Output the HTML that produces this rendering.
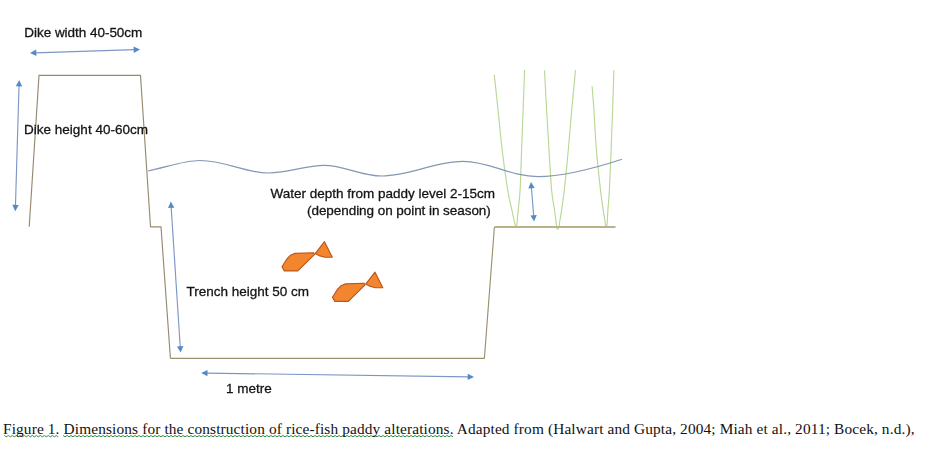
<!DOCTYPE html>
<html><head><meta charset="utf-8">
<style>
html,body{margin:0;padding:0;background:#fff;}
body{width:936px;height:462px;overflow:hidden;position:relative;}
svg{position:absolute;left:0;top:0;}
.s{font-family:"Liberation Sans",Arial,sans-serif;font-size:13.5px;fill:#141414;stroke:#141414;stroke-width:0.3px;}
.c{font-family:"Liberation Serif","Times New Roman",serif;font-size:15.35px;fill:#111;}
</style></head><body>
<svg width="936" height="462" viewBox="0 0 936 462">
<path d="M29.2,226.8 L39,75.4 L140.5,75.4 L150.5,226.8 L161,226.8 L170.4,358.3" fill="none" stroke="#968b70" stroke-width="1.15" stroke-linejoin="round"/>
<path d="M170.4,358.3 L484.4,358.3 L494.4,227" fill="none" stroke="#999270" stroke-width="1.15" stroke-linejoin="round"/>
<g fill="none" stroke="#b8d894" stroke-width="1.15">
<path d="M494.3,74.7 C494.9,80.6 496.7,97.5 498.0,110.0 C499.3,122.5 500.6,136.7 502.2,150.0 C503.8,163.3 506.1,180.0 507.7,190.0 C509.3,200.0 510.8,205.0 511.9,210.0 C512.9,215.0 513.5,217.5 514.0,220.0 C514.5,222.5 514.7,223.8 515.0,224.8 C515.3,225.9 515.5,226.3 515.8,226.3 C516.1,226.3 516.5,225.9 516.7,224.8 C517.0,223.8 517.0,222.5 517.3,220.0 C517.5,217.5 517.7,215.0 518.2,210.0 C518.7,205.0 519.5,200.0 520.1,190.0 C520.7,180.0 521.1,163.3 521.6,150.0 C522.1,136.7 522.6,123.3 523.1,110.0 C523.6,96.7 524.4,76.7 524.6,70.0"/>
<path d="M544.5,70.5 C544.9,77.1 545.9,96.8 546.6,110.0 C547.4,123.2 548.2,136.7 549.0,150.0 C549.8,163.3 550.7,180.0 551.6,190.0 C552.5,200.0 553.8,204.8 554.5,210.0 C555.2,215.2 555.6,218.1 556.0,221.0 C556.4,223.9 556.3,225.9 556.6,227.3 C556.9,228.7 557.2,229.3 557.6,229.3 C558.0,229.3 558.4,228.7 558.8,227.3 C559.2,225.9 559.3,223.9 559.8,221.0 C560.3,218.1 560.9,215.2 561.6,210.0 C562.4,204.8 563.2,200.0 564.3,190.0 C565.4,180.0 567.1,163.3 568.3,150.0 C569.5,136.7 570.5,123.3 571.7,110.0 C572.9,96.7 574.9,76.7 575.5,70.0"/>
<path d="M592.1,86.2 C592.4,90.2 593.2,99.4 593.9,110.0 C594.6,120.6 595.3,136.7 596.4,150.0 C597.5,163.3 599.4,180.0 600.5,190.0 C601.6,200.0 602.5,205.0 603.2,210.0 C603.9,215.0 604.4,217.5 604.8,220.0 C605.2,222.5 605.3,223.8 605.5,224.8 C605.7,225.9 606.0,226.3 606.2,226.3 C606.5,226.3 606.8,225.9 607.0,224.8 C607.2,223.8 607.2,222.5 607.4,220.0 C607.5,217.5 607.6,215.0 607.9,210.0 C608.2,205.0 608.9,200.0 609.4,190.0 C609.9,180.0 610.6,163.3 611.1,150.0 C611.6,136.7 612.1,123.3 612.6,110.0 C613.1,96.7 613.7,76.7 613.9,70.0"/>
</g>
<path d="M494.4,227 L615.5,227" fill="none" stroke="#bab38a" stroke-width="2"/>
<path d="M148,171 C170,166 185,160.5 200,160.5 C225,160.5 245,173 268,173 C290,173 305,165.3 324,165.3 C345,165.3 360,176 382,176 C410,176 435,161.4 463,161.4 C490,161.4 510,176.6 538,176.6 C565,176.6 595,168 622,159.2" fill="none" stroke="#8497b3" stroke-width="1.2"/>
<g><line x1="35.30" y1="52.83" x2="134.70" y2="49.67" stroke="#7d97c4" stroke-width="1.15"/><path d="M30.00,53.00 L36.40,56.00 L36.20,49.60 Z" fill="#558ac6"/><path d="M140.00,49.50 L133.80,52.90 L133.60,46.50 Z" fill="#558ac6"/><line x1="19.04" y1="85.30" x2="15.46" y2="205.90" stroke="#7d97c4" stroke-width="1.15"/><path d="M19.20,80.00 L15.81,86.20 L22.21,86.39 Z" fill="#558ac6"/><path d="M15.30,211.20 L12.29,204.81 L18.69,205.00 Z" fill="#558ac6"/><line x1="171.14" y1="206.89" x2="180.26" y2="347.31" stroke="#7d97c4" stroke-width="1.15"/><path d="M170.80,201.60 L168.01,208.09 L174.40,207.68 Z" fill="#558ac6"/><path d="M180.60,352.60 L177.00,346.52 L183.39,346.11 Z" fill="#558ac6"/><line x1="206.50" y1="373.08" x2="468.70" y2="376.92" stroke="#7d97c4" stroke-width="1.15"/><path d="M201.20,373.00 L207.45,376.29 L207.55,369.89 Z" fill="#558ac6"/><path d="M474.00,377.00 L467.65,380.11 L467.75,373.71 Z" fill="#558ac6"/><line x1="531.41" y1="187.28" x2="533.69" y2="216.22" stroke="#7d97c4" stroke-width="1.15"/><path d="M531.00,182.00 L528.30,188.53 L534.68,188.03 Z" fill="#558ac6"/><path d="M534.10,221.50 L530.42,215.47 L536.80,214.97 Z" fill="#558ac6"/></g>
<g fill="#f3852f" stroke="#b9581d" stroke-width="1.15" stroke-linejoin="round"><path d="M282.0,266.8 L284.3,270.9 L297.8,270.9 L314.6,254.4 L313.4,252.7 L295.0,253.4 L290.5,255.2 L286.5,259.5 Z"/><path d="M315.2,253.6 L324.5,241.7 L332.3,257.3 L325.0,257.2 L319.0,255.6 Z"/><path d="M332.5,297.3 L334.8,301.4 L348.3,301.4 L365.1,284.9 L363.9,283.2 L345.5,283.9 L341.0,285.7 L337.0,290.0 Z"/><path d="M365.7,284.1 L375.0,272.2 L382.8,287.8 L375.5,287.7 L369.5,286.1 Z"/></g>
<g style="will-change:transform">
<text class="s" x="24.3" y="37" textLength="118" lengthAdjust="spacing">Dike width 40-50cm</text>
<text class="s" x="24" y="133.7" textLength="124" lengthAdjust="spacing">Dike height 40-60cm</text>
<text class="s" x="270.5" y="198.3">Water depth from paddy level 2-15cm</text>
<text class="s" x="307" y="214.6" textLength="183.8" lengthAdjust="spacing">(depending on point in season)</text>
<text class="s" x="186.5" y="295.8">Trench height 50 cm</text>
<text class="s" x="226" y="393">1 metre</text>
</g>
<path d="M4.3,435.5 L6.3,436.8 L8.3,435.5 L10.3,436.8 L12.3,435.5 L14.3,436.8 L16.3,435.5 L18.3,436.8 L20.3,435.5 L22.3,436.8 L24.3,435.5 L26.3,436.8 L28.3,435.5 L30.3,436.8 L32.3,435.5 L34.3,436.8 L36.3,435.5 L38.3,436.8 L40.3,435.5 L42.3,436.8 L44.3,435.5 L46.3,436.8 L48.3,435.5 L50.3,436.8 L52.3,435.5 L54.3,436.8 L56.3,435.5 L58.3,436.8 M63.0,435.5 L65.0,436.8 L67.0,435.5 L69.0,436.8 L71.0,435.5 L73.0,436.8 L75.0,435.5 L77.0,436.8 L79.0,435.5 L81.0,436.8 L83.0,435.5 L85.0,436.8 L87.0,435.5 L89.0,436.8 L91.0,435.5 L93.0,436.8 L95.0,435.5 L97.0,436.8 L99.0,435.5 L101.0,436.8 L103.0,435.5 L105.0,436.8 L107.0,435.5 L109.0,436.8 L111.0,435.5 L113.0,436.8 L115.0,435.5 L117.0,436.8 L119.0,435.5 L121.0,436.8 L123.0,435.5 L125.0,436.8 L127.0,435.5 L129.0,436.8 L131.0,435.5 L133.0,436.8 L135.0,435.5 L137.0,436.8 L139.0,435.5 L141.0,436.8 L143.0,435.5 L145.0,436.8 L147.0,435.5 L149.0,436.8 L151.0,435.5 L153.0,436.8 L155.0,435.5 L157.0,436.8 L159.0,435.5 L161.0,436.8 L163.0,435.5 L165.0,436.8 L167.0,435.5 L169.0,436.8 L171.0,435.5 L173.0,436.8 L175.0,435.5 L177.0,436.8 L179.0,435.5 L181.0,436.8 L183.0,435.5 L185.0,436.8 L187.0,435.5 L189.0,436.8 L191.0,435.5 L193.0,436.8 L195.0,435.5 L197.0,436.8 L199.0,435.5 L201.0,436.8 L203.0,435.5 L205.0,436.8 L207.0,435.5 L209.0,436.8 L211.0,435.5 L213.0,436.8 L215.0,435.5 L217.0,436.8 L219.0,435.5 L221.0,436.8 L223.0,435.5 L225.0,436.8 L227.0,435.5 L229.0,436.8 L231.0,435.5 L233.0,436.8 L235.0,435.5 L237.0,436.8 L239.0,435.5 L241.0,436.8 L243.0,435.5 L245.0,436.8 L247.0,435.5 L249.0,436.8 L251.0,435.5 L253.0,436.8 L255.0,435.5 L257.0,436.8 L259.0,435.5 L261.0,436.8 L263.0,435.5 L265.0,436.8 L267.0,435.5 L269.0,436.8 L271.0,435.5 L273.0,436.8 L275.0,435.5 L277.0,436.8 L279.0,435.5 L281.0,436.8 L283.0,435.5 L285.0,436.8 L287.0,435.5 L289.0,436.8 L291.0,435.5 L293.0,436.8 L295.0,435.5 L297.0,436.8 L299.0,435.5 L301.0,436.8 L303.0,435.5 L305.0,436.8 L307.0,435.5 L309.0,436.8 L311.0,435.5 L313.0,436.8 L315.0,435.5 L317.0,436.8 L319.0,435.5 L321.0,436.8 L323.0,435.5 L325.0,436.8 L327.0,435.5 L329.0,436.8 L331.0,435.5 L333.0,436.8 L335.0,435.5 L337.0,436.8 L339.0,435.5 L341.0,436.8 L343.0,435.5 L345.0,436.8 L347.0,435.5 L349.0,436.8 L351.0,435.5 L353.0,436.8 L355.0,435.5 L357.0,436.8 L359.0,435.5 L361.0,436.8 L363.0,435.5 L365.0,436.8 L367.0,435.5 L369.0,436.8 L371.0,435.5 L373.0,436.8 L375.0,435.5 L377.0,436.8 L379.0,435.5 L381.0,436.8 L383.0,435.5 L385.0,436.8 L387.0,435.5 L389.0,436.8 L391.0,435.5 L393.0,436.8 L395.0,435.5 L397.0,436.8 L399.0,435.5 L401.0,436.8 L403.0,435.5 L405.0,436.8 L407.0,435.5 L409.0,436.8 L411.0,435.5 L413.0,436.8 L415.0,435.5 L417.0,436.8 L419.0,435.5 L421.0,436.8 L423.0,435.5 L425.0,436.8 L427.0,435.5 L429.0,436.8 L431.0,435.5 L433.0,436.8 L435.0,435.5 L437.0,436.8 L439.0,435.5 L441.0,436.8 L443.0,435.5 L445.0,436.8 L447.0,435.5 L449.0,436.8 L451.0,435.5 L453.0,436.8" fill="none" stroke="#3b8c46" stroke-width="1"/>
<text class="c" x="3" y="433.6" textLength="911.5" lengthAdjust="spacing">Figure 1. Dimensions for the construction of rice-fish paddy alterations. Adapted from (Halwart and Gupta, 2004; Miah et al., 2011; Bocek, n.d.),</text>
</svg>
</body></html>
